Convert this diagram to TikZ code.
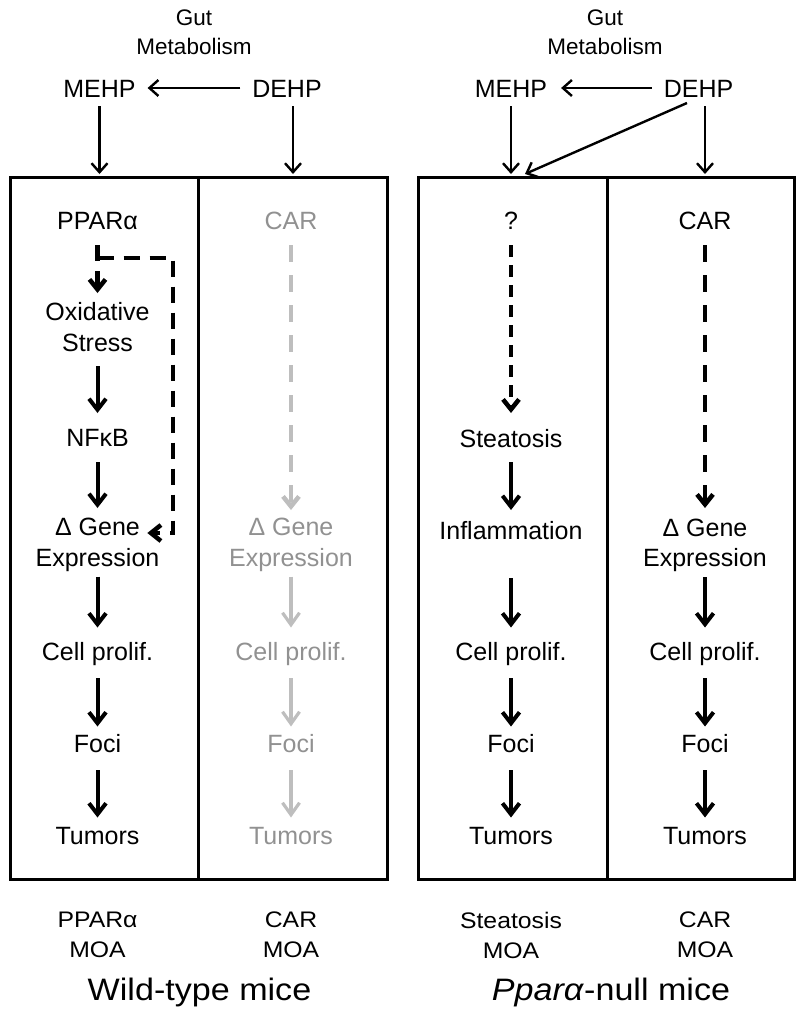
\documentclass[tikz,border=0pt]{standalone}
\usepackage{fontspec}
\setmainfont{Liberation Sans}
\newfontfamily\widefont[FakeStretch=1.1]{Liberation Sans}
\usetikzlibrary{arrows.meta,calc}
\definecolor{gtext}{RGB}{145,145,145}
\definecolor{garr}{RGB}{190,190,190}
\begin{document}
\begin{tikzpicture}[x=1pt,y=-1pt,
  every node/.style={inner sep=0pt,outer sep=0pt},
  txt/.style={font=\fontsize{25}{31}\selectfont, anchor=base, text height=18pt, text depth=5pt},
  txtm/.style={font=\fontsize{25}{30.5}\selectfont, align=center, anchor=north},
  gtxt/.style={text=gtext},
  toptxt/.style={font=\fontsize{25}{31}\selectfont, anchor=base, text height=18pt, text depth=0pt},
  smalltxt/.style={font=\fontsize{22.5}{29}\selectfont, align=center, anchor=north},
  moa/.style={font=\widefont\fontsize{22.5}{30}\selectfont, align=center, anchor=north},
  titletxt/.style={font=\widefont\fontsize{31}{31}\selectfont, anchor=base},
  boxline/.style={line width=3pt},
  thinarr/.style={line width=2.4pt, -{Straight Barb[length=9pt,width=16pt]}},
  thickarr/.style={line width=4pt, -{Straight Barb[length=11pt,width=17pt]}},
  grayarr/.style={line width=3.2pt, draw=garr, -{Straight Barb[length=12pt,width=17pt]}},
  dblack/.style={line width=4.5pt, dash pattern=on 16pt off 10pt, -{Straight Barb[length=10pt,width=16pt]}},
  dq/.style={line width=4.5pt, dash pattern=on 12pt off 8pt, -{Straight Barb[length=10pt,width=16pt]}},
  dcar/.style={line width=4.5pt, dash pattern=on 17pt off 13pt, -{Straight Barb[length=10pt,width=16pt]}},
  dgray/.style={line width=4.5pt, draw=garr, dash pattern=on 17pt off 13pt, -{Straight Barb[length=10pt,width=16pt]}}
]
\useasboundingbox (0,0) rectangle (800,1020);

% ---------- top ----------
\node[smalltxt] (gutL) at (194,9.4) {Gut\\Metabolism};
\node[smalltxt] (gutR) at (605,9.4) {Gut\\Metabolism};
\node[toptxt] (mehpL) at (99.5,97) {MEHP};
\node[toptxt] (dehpL) at (287,97) {DEHP};
\node[toptxt] (mehpR) at (511,97) {MEHP};
\node[toptxt] (dehpR) at (698.5,97) {DEHP};

\coordinate (inL1) at (99.5,174);
\coordinate (inL2) at (293,174);
\coordinate (inR1) at (511,174);
\coordinate (inR2) at (705,174);
\coordinate (inR3) at (525,174);

\draw[thinarr, shorten <=12pt, shorten >=12pt] (dehpL.west) -- (mehpL.east);
\draw[thinarr, shorten <=12pt, shorten >=14pt] (dehpR.west) -- (mehpR.east);
\draw[thinarr, shorten <=9pt] (mehpL.south) -- (inL1);
\draw[thinarr, shorten <=9pt] ([xshift=6pt]dehpL.south) -- (inL2);
\draw[thinarr, shorten <=9pt] (mehpR.south) -- (inR1);
\draw[thinarr, shorten <=9pt] ([xshift=6.5pt]dehpR.south) -- (inR2);
\draw[thinarr] ([xshift=-11.5pt,yshift=-6pt]dehpR.south) -- (inR3);

% ---------- boxes ----------
\draw[boxline] (10,177.5) rectangle (387,879);
\draw[boxline] (198,177.5) -- (198,879);
\draw[boxline] (418,177.5) rectangle (794,879);
\draw[boxline] (607,177.5) -- (607,879);

% ---------- wild type: PPARa column ----------
\node[txt] (pparL) at (97.5,229) {PPARα};
\node[txtm] (oxL) at (97.5,302.5) {Oxidative\\Stress};
\node[txt] (nfL) at (97.5,446) {NFκB};
\node[txtm] (geneL) at (97.5,518.5) {Δ Gene\\Expression};
\node[txt] (cellL) at (97.5,660.5) {Cell prolif.};
\node[txt] (fociL) at (97.5,752.5) {Foci};
\node[txt] (tumL) at (97.5,844) {Tumors};

\draw[dblack, shorten <=11pt, shorten >=9.5pt] (pparL.south) -- (oxL.north);
\coordinate (brA) at (97.5,258);
\coordinate (brC) at (173,533);
\draw[dblack] (brA) -| (brC) -- ($(brC -| geneL.east)+(-12,0)$);
\draw[thickarr, shorten <=15pt, shorten >=15pt] (oxL.south) -- (nfL.north);
\draw[thickarr, shorten <=11pt, shorten >=10.5pt] (nfL.south) -- (geneL.north);
\draw[thickarr, shorten <=5pt, shorten >=15pt] (geneL.south) -- (cellL.north);
\draw[thickarr, shorten <=12.5pt, shorten >=8pt] (cellL.south) -- (fociL.north);
\draw[thickarr, shorten <=12.5pt, shorten >=8.5pt] (fociL.south) -- (tumL.north);

% ---------- wild type: CAR column (grey) ----------
\node[txt, gtxt] (carL) at (291,229) {CAR};
\node[txtm, gtxt] (geneLg) at (291,518.5) {Δ Gene\\Expression};
\node[txt, gtxt] (cellLg) at (291,660.5) {Cell prolif.};
\node[txt, gtxt] (fociLg) at (291,752.5) {Foci};
\node[txt, gtxt] (tumLg) at (291,844) {Tumors};

\draw[dgray, shorten <=11pt, shorten >=8.5pt] (carL.south) -- (geneLg.north);
\draw[grayarr, shorten <=5pt, shorten >=15pt] (geneLg.south) -- (cellLg.north);
\draw[grayarr, shorten <=12.5pt, shorten >=8pt] (cellLg.south) -- (fociLg.north);
\draw[grayarr, shorten <=12.5pt, shorten >=8.5pt] (fociLg.south) -- (tumLg.north);

% ---------- null: steatosis column ----------
\node[txt] (q) at (511,229) {?};
\node[txt] (steat) at (511,447) {Steatosis};
\node[txt] (infl) at (511,539) {Inflammation};
\node[txt] (cellR1) at (511,660.5) {Cell prolif.};
\node[txt] (fociR1) at (511,752.5) {Foci};
\node[txt] (tumR1) at (511,844) {Tumors};

\draw[dq, shorten <=11pt, shorten >=16pt] (q.south) -- (steat.north);
\draw[thickarr, shorten <=10pt, shorten >=11pt] (steat.south) -- (infl.north);
\draw[thickarr, shorten <=34pt, shorten >=15pt] (infl.south) -- (cellR1.north);
\draw[thickarr, shorten <=12.5pt, shorten >=8pt] (cellR1.south) -- (fociR1.north);
\draw[thickarr, shorten <=12.5pt, shorten >=8.5pt] (fociR1.south) -- (tumR1.north);

% ---------- null: CAR column ----------
\node[txt] (carR) at (705,229) {CAR};
\node[txtm] (geneR) at (705,519) {Δ Gene\\Expression};
\node[txt] (cellR2) at (705,660.5) {Cell prolif.};
\node[txt] (fociR2) at (705,752.5) {Foci};
\node[txt] (tumR2) at (705,844) {Tumors};

\draw[dcar, shorten <=11pt, shorten >=11pt] (carR.south) -- (geneR.north);
\draw[thickarr, shorten <=5pt, shorten >=15pt] (geneR.south) -- (cellR2.north);
\draw[thickarr, shorten <=12.5pt, shorten >=8pt] (cellR2.south) -- (fociR2.north);
\draw[thickarr, shorten <=12.5pt, shorten >=8.5pt] (fociR2.south) -- (tumR2.north);

% ---------- bottom labels ----------
\node[moa] (moa1) at (97.5,912) {PPARα\\MOA};
\node[moa] (moa2) at (291,912) {CAR\\MOA};
\node[moa] (moa3) at (511,912) {Steatosis\\MOA};
\node[moa] (moa4) at (705,912) {CAR\\MOA};
\node[titletxt] (wt) at (199.5,1000) {Wild-type mice};
\node[titletxt] (pn) at (611,1000) {\textit{Pparα}-null mice};
\end{tikzpicture}
\end{document}
